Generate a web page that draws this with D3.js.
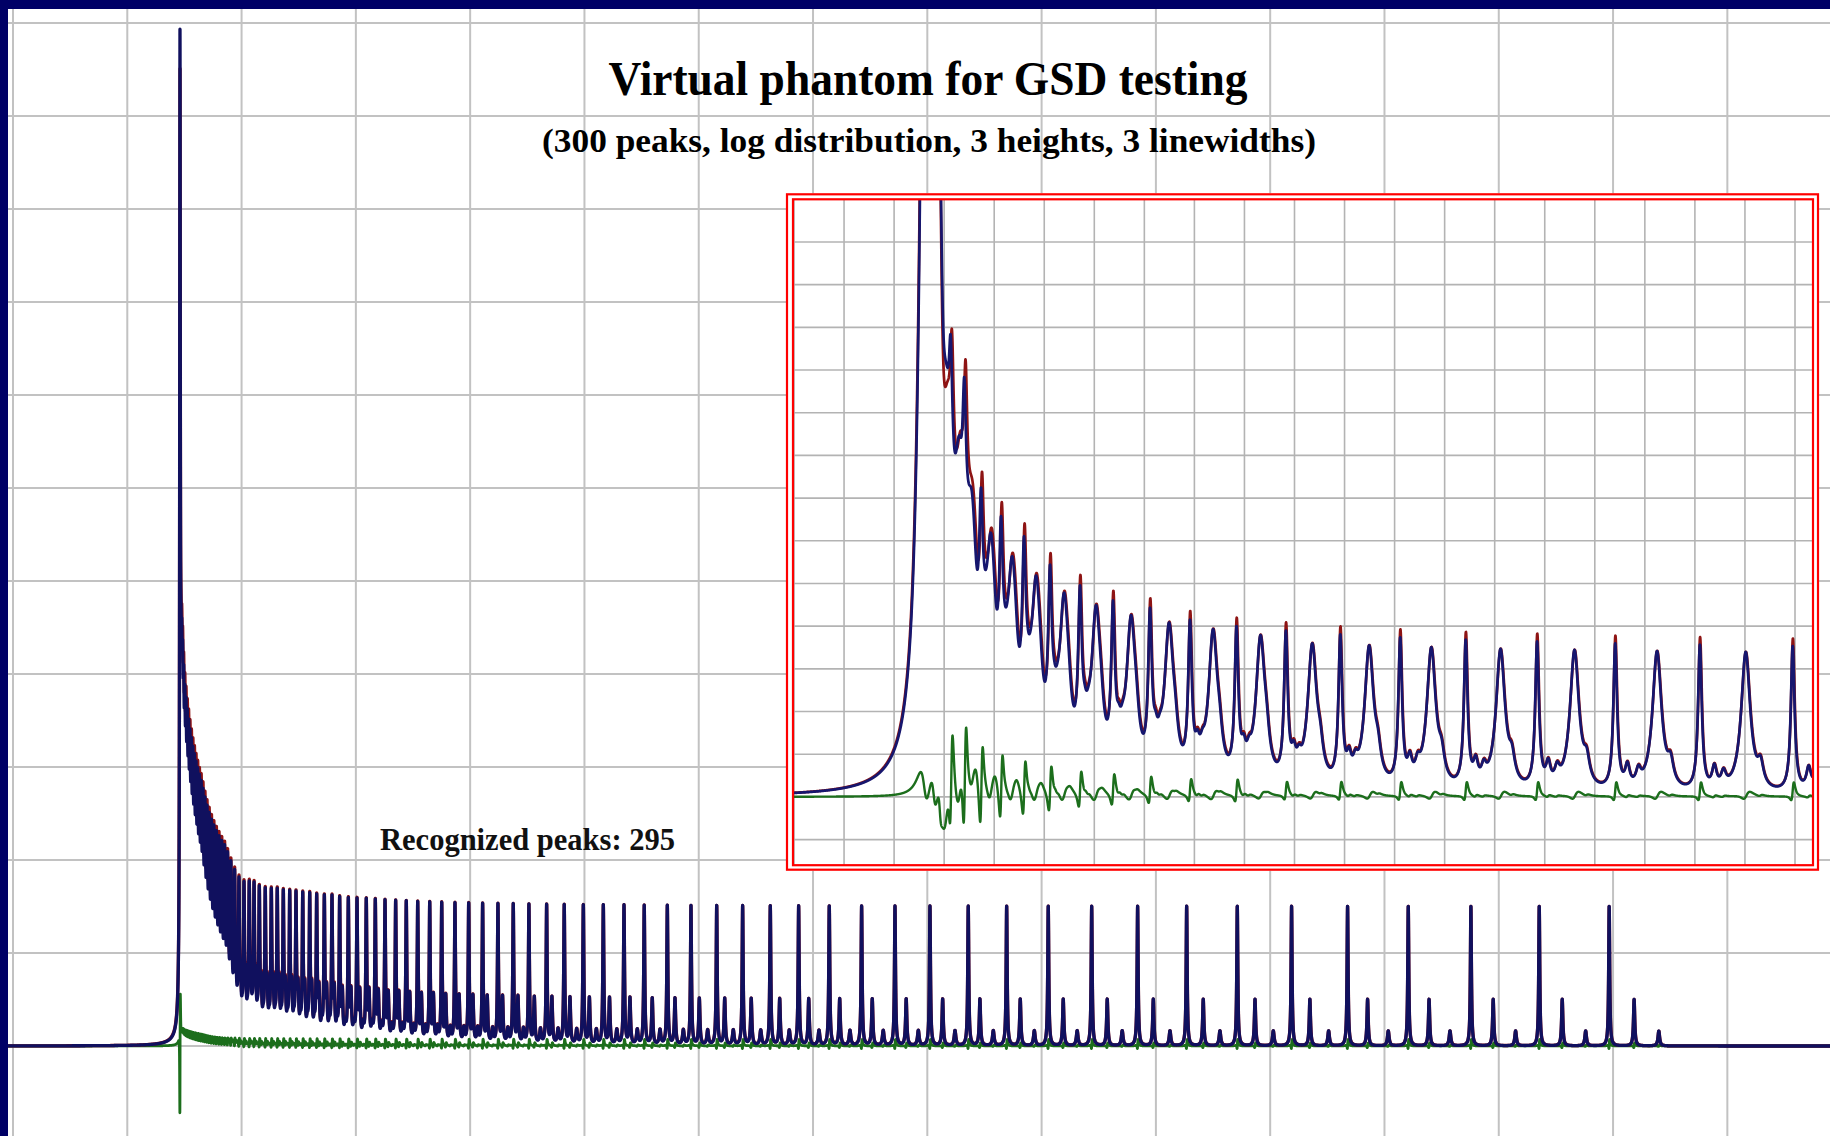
<!DOCTYPE html>
<html>
<head>
<meta charset="utf-8">
<script src="https://cdn.jsdelivr.net/npm/d3@7"></script>
<style>
  html, body { margin: 0; padding: 0; background: #ffffff; }
  svg { display: block; }
</style>
</head>
<body>
<svg id="chart" width="1830" height="1136"></svg>
<script>
// ---------------------------------------------------------------
// Phantom spectrum: peaks come in triples (tall, medium, small).
// Positions are channel numbers, heights are intensity units.
// ---------------------------------------------------------------
const mainTriples = [
  [146.9,147.11,147.36],[147.6,147.84,148.12],[148.4,148.67,148.99],[149.3,149.6,149.95],
  [150.3,150.62,150.98],[151.35,151.68,152.07],[152.45,152.8,153.2],[153.6,153.96,154.38],
  [154.8,155.18,155.61],[156.05,156.44,156.9],[157.35,157.76,158.23],[158.7,159.12,159.61],
  [160.1,160.54,161.04],[161.55,162.0,162.53],[163.05,163.52,164.06],[164.6,165.08,165.64],
  [166.2,166.71,167.31],[167.9,168.44,169.07],[169.7,170.27,170.94],[171.6,172.2,172.9],
  [173.6,174.23,174.97],[175.7,176.36,177.13],[177.9,178.59,179.4],[180.2,180.92,181.76],
  [182.6,183.35,184.23],[185.1,185.88,186.79],[187.7,188.57,189.59],[190.6,191.59,192.75],
  [193.9,195.04,196.37],[197.7,199.02,200.56],
  [202.1,203.5,205.1],[206.7,208.0,209.4],[210.9,212.3,213.9],[215.5,217.1,218.9],
  [220.7,222.3,224.1],[226.0,227.6,229.4],[231.2,232.8,234.6],[236.5,238.2,240.1],
  [242.1,243.8,245.7],[247.6,249.4,251.4],[253.5,255.3,257.5],[259.6,261.4,263.6],
  [265.7,267.7,270.1],[272.4,274.4,276.8],[279.1,281.1,283.5],[285.8,288.1,290.7],
  [293.4,295.7,298.3],[301.0,303.4,306.3],[309.1,311.5,314.2],[317.0,319.6,322.5],
  [325.5,328.3,331.5],[334.8,337.6,340.8],[344.1,347.1,350.6],[354.1,357.3,360.9],
  [364.6,367.8,371.4],[375.1,378.6,382.6],[386.7,390.3,394.5],[398.7,402.4,406.6],
  [410.9,414.9,419.6],[424.3,428.3,433.0],[437.7,441.8,446.6],[451.4,456.1,461.5],
  [466.9,471.5,476.9],[482.3,487.3,493.2],[499.0,504.3,510.4],[516.5,521.9,528.3],
  [534.6,539.8,546.2],[552.3,559.3,566.1],[572.5,579.2,586.5],[593.2,600.5,607.8],
  [615.7,622.7,630.2],[638.4,645.9,654.2],[662.6,670.8,679.2],[687.4,696.2,705.2],
  [714.2,723.3,732.3],[742.5,751.8,761.4],[771.7,781.5,792.1],[802.3,813.4,824.2],
  [835.8,846.0,857.7],[869.4,881.3,893.6],[905.8,918.9,931.1],[943.8,957.4,970.5],
  [984.0,997.7,1012.3],[1026.9,1041.4,1056.0],[1071.2,1086.7,1102.7],[1118.7,1134.7,1151.1],
  [1167.7,1185.2,1203.3],[1220.8,1239.0,1257.3],[1275.6,1295.1,1314.7],[1335.4,1355.5,1376.0],
  [1396.6,1418.4,1440.0]
];
const mainClassHeight = [150, 50, 16];       // tall, medium, small
const mainClassWidth  = [0.53, 0.65, 0.85];  // half widths, channels
const mainCluster = { x: 146.1, h: 970, w: 0.33 };
// deconvolution result relative to the phantom
const mainFitHeight = [1.0, 1.0, 1.0];
const mainFitWidth  = [1.04, 1.04, 1.04];
const mainFitShift  = [0.025, 0.05, 0.06];
const mainClusterFit = { h: 0.95, w: 1.08, shift: 0.03 };

// ---------------------------------------------------------------
// Zoomed view: each group is broad, shoulder, narrow, bump, bump.
// ---------------------------------------------------------------
const insetCluster = { x: [26.17, 27.97, 29.17], h: [215, 120, 60], w: [1.2, 0.8, 0.5] };
const insetCycles = [
  [30.37, 30.75, 31.31, 31.80, 32.20],
  [32.91, 33.27, 34.03, 34.59, 34.89],
  [35.50, 36.04, 37.36, 37.96, 38.38],
  [39.30, 39.90, 41.36, 42.04, 42.54],
  [43.56, 44.24, 45.95, 46.65, 47.19],
  [48.35, 49.13, 51.15, 51.97, 52.61],
  [53.95, 54.85, 57.14, 58.06, 58.80],
  [60.34, 61.32, 63.74, 64.86, 65.65],
  [67.33, 68.39, 71.13, 72.23, 73.11],
  [74.93, 76.16, 79.12, 80.60, 81.60],
  [83.72, 85.03, 88.41, 89.83, 90.91],
  [93.19, 94.43, 98.28, 99.84, 100.90],
  [103.54, 105.15, 109.15, 110.89, 112.17],
  [114.91, 116.68, 121.12, 123.04, 124.60],
  [127.33, 129.39, 134.21, 136.20, 137.82],
  [141.16, 143.44, 148.47, 150.69, 152.47],
  [155.94, 158.38, 164.08, 166.51, 168.71],
  [172.43, 175.14, 181.00, 183.88, 185.71],
  [190.15, 193.11, 199.54, 202.72, 204.40],
  [209.60, 212.90, 220.00, 223.50, 225.50]
];
const insetHeightBroad  = [42, 42, 40, 41, 40, 39, 38, 37, 36, 35.5, 35, 34, 33, 33, 33, 33, 33, 33, 33, 33];
const insetHeightNarrow = [36, 40, 36, 37, 38, 37, 36, 35, 35, 34.5, 34, 34, 34, 34, 34, 34, 34, 34, 34, 34];
const insetMinorHeight  = [5, 5, 3.5];                  // shoulder, bump, bump
const insetClassWidth   = [1.1, 0.7, 0.45, 0.55, 0.6];  // broad, shoulder, narrow, bump, bump
const insetFitHeight    = [1.0, 1.0, 1.05, 1.0, 1.0];
const insetFitWidth     = [1.03, 1.0, 1.0, 1.0, 1.0];
const insetFitShift     = [0.25, 0.25, 0.2, 0.15, 0.12, 0.1, 0.08, 0.07, 0.06, 0.05,
                           0.05, 0.04, 0.04, 0.04, 0.04, 0.04, 0.04, 0.04, 0.04, 0.04];
const insetClusterFit   = { w: 1.02, shift: -0.03 };

const titleText = "Virtual phantom for GSD testing";
const subtitleText = "(300 peaks, log distribution, 3 heights, 3 linewidths)";
const recognizedPeaks = 295;

// ---------------------------------------------------------------
const W = 1830, H = 1136;
const svg = d3.select("#chart");
const COL = {
  frame: "#000066", grid: "#c2c2c2", gridIn: "#b3b3b3",
  blue: "#10105e", blueIn: "#16166e", red: "#8e1414", green: "#1c6e1c", border: "#ff0000"
};

function lorentzSum(xs, peaks) {
  const ys = new Float64Array(xs.length);
  for (const p of peaks) {
    const w2 = p.w * p.w;
    for (let i = 0; i < xs.length; i++) {
      const d = xs[i] - p.x;
      ys[i] += p.h * w2 / (w2 + d * d);
    }
  }
  return ys;
}
function sampleAxis(lo, hi, step, peaks) {
  const xs = d3.range(lo, hi, step).concat(peaks.map(p => p.x).filter(v => v > lo && v < hi));
  return Float64Array.from(xs.sort((a, b) => a - b));
}
const toPts = (xs, ys) => Array.from(xs, (v, i) => [v, ys[i]]);
const diffPts = (xs, a, b) => Array.from(xs, (v, i) => [v, a[i] - b[i]]);

// ---------------- main plot ----------------
const plot = { left: 8, top: 9, right: W, bottom: H };
const x = d3.scaleLinear().domain([0, 1600]).range([13, 13 + 1600 * 1.1429]);
const y = d3.scaleLinear().domain([0, 1100]).range([1046, 23]);

const defs = svg.append("defs");
defs.append("clipPath").attr("id", "mainClip")
  .append("rect").attr("x", plot.left).attr("y", plot.top)
  .attr("width", plot.right - plot.left).attr("height", plot.bottom - plot.top);

const gMain = svg.append("g");
gMain.append("g").selectAll("line").data(d3.range(0, 1601, 100)).join("line")
  .attr("x1", d => x(d)).attr("x2", d => x(d)).attr("y1", plot.top).attr("y2", plot.bottom)
  .attr("stroke", COL.grid).attr("stroke-width", 2);
gMain.append("g").selectAll("line").data(d3.range(-100, 1101, 100)).join("line")
  .attr("y1", d => y(d)).attr("y2", d => y(d)).attr("x1", plot.left).attr("x2", plot.right)
  .attr("stroke", COL.grid).attr("stroke-width", 2);

const mainPeaks = [], mainFitPeaks = [];
mainTriples.forEach(t => t.forEach((pos, k) => {
  mainPeaks.push({ x: pos, h: mainClassHeight[k], w: mainClassWidth[k] });
  mainFitPeaks.push({ x: pos + mainFitShift[k], h: mainClassHeight[k] * mainFitHeight[k],
                      w: mainClassWidth[k] * mainFitWidth[k] });
}));
mainPeaks.push({ x: mainCluster.x, h: mainCluster.h, w: mainCluster.w });
mainFitPeaks.push({ x: mainCluster.x + mainClusterFit.shift, h: mainCluster.h * mainClusterFit.h,
                    w: mainCluster.w * mainClusterFit.w });

const mxs = sampleAxis(-5, 1595, 0.04, mainPeaks);
const mBlue = lorentzSum(mxs, mainPeaks);
const mRed = lorentzSum(mxs, mainFitPeaks);
const mainLine = d3.line().x(d => x(d[0])).y(d => y(d[1]));

const gCurves = gMain.append("g").attr("clip-path", "url(#mainClip)")
  .attr("fill", "none").attr("stroke-linejoin", "round").attr("stroke-linecap", "round");
gCurves.append("path").attr("d", mainLine(diffPts(mxs, mRed, mBlue)))
  .attr("stroke", COL.green).attr("stroke-width", 2.8);
gCurves.append("path").attr("d", mainLine(toPts(mxs, mRed)))
  .attr("stroke", COL.red).attr("stroke-width", 3.3);
gCurves.append("path").attr("d", mainLine(toPts(mxs, mBlue)))
  .attr("stroke", COL.blue).attr("stroke-width", 3.3);

svg.append("text").attr("x", 380).attr("y", 850)
  .attr("font-family", "'Liberation Serif', 'Times New Roman', serif")
  .attr("font-weight", "bold").attr("font-size", 30.5).attr("fill", "#111")
  .attr("textLength", 295).attr("lengthAdjust", "spacingAndGlyphs")
  .text("Recognized peaks: " + recognizedPeaks);

// ---------------- zoomed inset ----------------
const inOuter = { x0: 787, y0: 194.3, x1: 1818, y1: 869.7 };
const inInner = { x0: 793, y0: 199.3, x1: 1813, y1: 865.2 };
const xi = d3.scaleLinear().domain([0, 200]).range([794, 1795]);
const yi = d3.scaleLinear().domain([-16, 140]).range([865.2, 199.3]);

const gIn = svg.append("g");
gIn.append("rect").attr("x", inOuter.x0 - 1).attr("y", inOuter.y0 - 1)
  .attr("width", inOuter.x1 - inOuter.x0 + 2).attr("height", inOuter.y1 - inOuter.y0 + 2)
  .attr("fill", "#ffffff");
defs.append("clipPath").attr("id", "inClip")
  .append("rect").attr("x", inInner.x0).attr("y", inInner.y0)
  .attr("width", inInner.x1 - inInner.x0).attr("height", inInner.y1 - inInner.y0);

const gInGrid = gIn.append("g").attr("clip-path", "url(#inClip)");
gInGrid.selectAll("line.v").data(d3.range(0, 201, 10)).join("line").attr("class", "v")
  .attr("x1", d => xi(d)).attr("x2", d => xi(d)).attr("y1", inInner.y0).attr("y2", inInner.y1)
  .attr("stroke", COL.gridIn).attr("stroke-width", 1.6);
gInGrid.selectAll("line.h").data(d3.range(-10, 141, 10)).join("line").attr("class", "h")
  .attr("y1", d => yi(d)).attr("y2", d => yi(d)).attr("x1", inInner.x0).attr("x2", inInner.x1)
  .attr("stroke", COL.gridIn).attr("stroke-width", 1.6);

const inPeaks = [], inFitPeaks = [];
insetCluster.x.forEach((pos, i) => {
  inPeaks.push({ x: pos, h: insetCluster.h[i], w: insetCluster.w[i] });
  inFitPeaks.push({ x: pos + insetClusterFit.shift, h: insetCluster.h[i], w: insetCluster.w[i] * insetClusterFit.w });
});
insetCycles.forEach((c, j) => {
  const hts = [insetHeightBroad[j], insetMinorHeight[0], insetHeightNarrow[j], insetMinorHeight[1], insetMinorHeight[2]];
  c.forEach((pos, k) => {
    inPeaks.push({ x: pos, h: hts[k], w: insetClassWidth[k] });
    inFitPeaks.push({ x: pos + insetFitShift[j], h: hts[k] * insetFitHeight[k], w: insetClassWidth[k] * insetFitWidth[k] });
  });
});
const ixs = sampleAxis(-1, 205, 0.02, inPeaks);
const iBlue = lorentzSum(ixs, inPeaks);
const iRed = lorentzSum(ixs, inFitPeaks);
const inLine = d3.line().x(d => xi(d[0])).y(d => yi(Math.max(-20, Math.min(d[1], 150))));

const gInCurves = gIn.append("g").attr("clip-path", "url(#inClip)")
  .attr("fill", "none").attr("stroke-linejoin", "round").attr("stroke-linecap", "round");
gInCurves.append("path").attr("d", inLine(diffPts(ixs, iRed, iBlue)))
  .attr("stroke", COL.green).attr("stroke-width", 2.4);
gInCurves.append("path").attr("d", inLine(toPts(ixs, iRed)))
  .attr("stroke", COL.red).attr("stroke-width", 2.7);
gInCurves.append("path").attr("d", inLine(toPts(ixs, iBlue)))
  .attr("stroke", COL.blueIn).attr("stroke-width", 2.7);

[inOuter, inInner].forEach(r => {
  gIn.append("rect").attr("x", r.x0).attr("y", r.y0)
    .attr("width", r.x1 - r.x0).attr("height", r.y1 - r.y0)
    .attr("fill", "none").attr("stroke", COL.border).attr("stroke-width", 2.2);
});

// ---------------- titles ----------------
const serif = "'Liberation Serif', 'Times New Roman', serif";
svg.append("text").attr("x", 928).attr("y", 95).attr("text-anchor", "middle")
  .attr("font-family", serif).attr("font-weight", "bold").attr("font-size", 48).attr("fill", "#000")
  .attr("textLength", 639).attr("lengthAdjust", "spacingAndGlyphs").text(titleText);
svg.append("text").attr("x", 929).attr("y", 152).attr("text-anchor", "middle")
  .attr("font-family", serif).attr("font-weight", "bold").attr("font-size", 34).attr("fill", "#000")
  .attr("textLength", 774).attr("lengthAdjust", "spacingAndGlyphs").text(subtitleText);

// ---------------- frame ----------------
svg.append("rect").attr("x", 0).attr("y", 0).attr("width", W).attr("height", plot.top).attr("fill", COL.frame);
svg.append("rect").attr("x", 0).attr("y", 0).attr("width", plot.left).attr("height", H).attr("fill", COL.frame);
</script>
</body>
</html>
